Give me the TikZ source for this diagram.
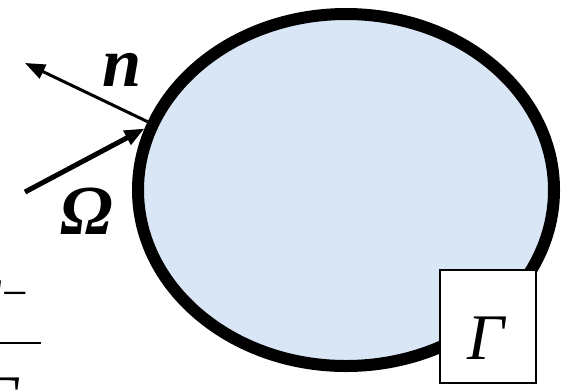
\documentclass[tikz,border=0pt]{standalone}
\usepackage{fontspec}
\setmainfont{Liberation Serif}
\usetikzlibrary{arrows.meta, shapes.geometric}
\definecolor{domfill}{RGB}{216,230,245}
\tikzset{
  dom/.style={draw, ellipse, line width=0.24cm, fill=domfill, minimum width=8.32cm, minimum height=7.04cm},
  arr/.style={-{Triangle[length=0.4cm, width=0.3cm]}},
  sym/.style={font=\fontsize{40}{44}\selectfont\bfseries\itshape, inner sep=0pt},
  gsym/.style={font=\fontsize{37}{40}\selectfont\itshape, inner sep=0pt},
  gbox/.style={draw, fill=white, line width=0.03cm, minimum width=1.92cm, minimum height=2.26cm}
}

\begin{document}
\begin{tikzpicture}[x=1cm, y=1cm]
    \useasboundingbox (0,0) rectangle (11.32,-7.78);
    \node[dom] (dom) at (6.92,-3.80) {};
    \coordinate (ntip) at (0.50,-1.26);
    \coordinate (otail) at (0.50,-3.84);

    \draw[arr, line width=0.06cm] (dom.161) -- (ntip);
    \draw[arr, line width=0.1cm] (otail) -- (dom.163);
    \node[sym] (nrm) at (2.44,-1.40) {n};
    \node[sym] (om) at (1.74,-4.22) {Ω};

    \node[gbox] (bnd) at (9.76,-6.53) {};
    \node[gsym] (gam) at (9.71,-6.77) {Γ};

    \node[gsym, anchor=north east] (gup) at (0.62,-5.62) {Γ\textsuperscript{−}};
    \node[gsym, anchor=north east] (gdn) at (0.36,-7.56) {Γ};
    \draw[line width=0.04cm] (-0.1,-6.86) -- (0.82,-6.86);
\end{tikzpicture}
\end{document}
